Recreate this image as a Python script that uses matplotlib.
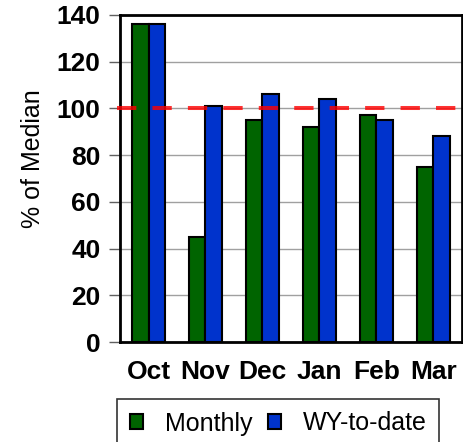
import numpy as np
import matplotlib
matplotlib.use("Agg")
import matplotlib.pyplot as plt
from matplotlib.patches import Patch

months = ["Oct", "Nov", "Dec", "Jan", "Feb", "Mar"]
monthly = [136, 45, 95, 92, 97, 75]
wy_to_date = [136, 101, 106, 104, 95, 88]
median_line = 100
yticks = [0, 20, 40, 60, 80, 100, 120, 140]

plt.rcParams['font.family'] = ['Liberation Sans', 'DejaVu Sans']

green = "#006400"
blue = "#0033CC"

fig = plt.figure(figsize=(4.64, 4.42), dpi=100)
ax = fig.add_axes([120/464, 1-342/442, 342/464, 327/442])

x = np.arange(len(months))
w = 0.29
ax.bar(x - w/2, monthly, w, color=green, edgecolor="black", linewidth=1.5, zorder=3)
ax.bar(x + w/2, wy_to_date, w, color=blue, edgecolor="black", linewidth=1.5, zorder=3)

# median reference line, runs a bit past the left spine
ax.plot([-0.56, len(months) - 0.46], [median_line, median_line], color="#FF0000",
        alpha=0.8, linewidth=2.9, dashes=(4.8, 4), zorder=4, clip_on=False)

ax.set_xlim(-0.5, len(months) - 0.5)
ax.set_ylim(0, 140)
ax.set_yticks(yticks)
ax.set_xticks(x)
ax.set_xticklabels(months, fontsize=19, fontweight="bold")
ax.tick_params(axis="x", length=0, pad=13)
ax.tick_params(axis="y", length=8, width=1, color="#606060", labelsize=19, pad=6)
for lbl in ax.get_yticklabels():
    lbl.set_fontweight("bold")
ax.yaxis.grid(True, color="#A0A0A0", linewidth=1, zorder=0)
ax.set_axisbelow(True)
for s in ax.spines.values():
    s.set_linewidth(2)
    s.set_color("black")

fig.text(33/464, 1-159/442, "% of Median", rotation=90, fontsize=18,
         ha="center", va="center")

handles = [Patch(facecolor=green, edgecolor="black", linewidth=1.5),
           Patch(facecolor=blue, edgecolor="black", linewidth=1.5)]
leg = fig.legend(handles, ["Monthly", "WY-to-date"], ncol=2, loc="upper left",
                 bbox_to_anchor=(117/464, 1-399/442), fontsize=18, frameon=True,
                 fancybox=False, edgecolor="black", handlelength=0.52, handleheight=0.52,
                 handletextpad=0.9, columnspacing=0.6, borderpad=0.5, borderaxespad=0)
leg.get_frame().set_linewidth(1.2)

fig.savefig("out.png", dpi=100)
